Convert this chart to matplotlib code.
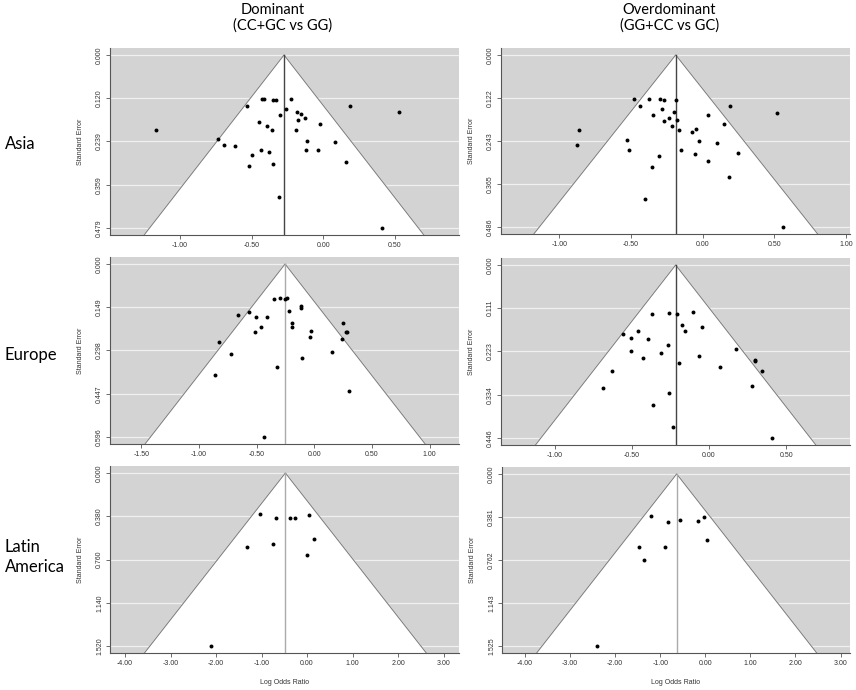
import numpy as np
import matplotlib
matplotlib.use("Agg")
import matplotlib.pyplot as plt

# funnel plots, rows = region, cols = genetic model
row_names = ["Asia", "Europe", "Latin\nAmerica"]
col_names = [("Dominant", "(CC+GC vs GG)"), ("Overdominant", "(GG+CC vs GC)")]

# --- Asia, dominant
asia_dom_x = [-0.426, -0.415, -0.349, -0.330, -0.228, -0.530, -0.260, -0.300, -0.186, -0.153,
              -0.174, -0.128, -0.021, 0.188, 0.528, -1.165, -0.447, -0.395, -0.356, -0.193,
              -0.733, -0.691, -0.619, -0.437, -0.381, -0.495, -0.116, -0.123, -0.040, 0.079,
              0.158, -0.516, -0.353, -0.307, 0.407]
asia_dom_se = [0.122, 0.122, 0.124, 0.125, 0.123, 0.140, 0.150, 0.166, 0.158, 0.164,
               0.181, 0.175, 0.190, 0.140, 0.158, 0.207, 0.185, 0.198, 0.207, 0.207,
               0.233, 0.249, 0.251, 0.263, 0.269, 0.276, 0.239, 0.263, 0.263, 0.242,
               0.295, 0.307, 0.301, 0.392, 0.479]

# --- Asia, overdominant
asia_over_x = [-0.477, -0.374, -0.298, -0.267, -0.184, -0.437, -0.284, -0.344, -0.198, -0.233,
               -0.270, -0.177, -0.214, -0.165, 0.040, 0.191, 0.519, 0.151, -0.047, -0.077,
               -0.863, -0.877, -0.528, -0.514, -0.026, 0.102, -0.149, -0.053, 0.249, -0.305,
               -0.351, 0.035, 0.184, -0.400, 0.558]
asia_over_se = [0.125, 0.125, 0.125, 0.128, 0.126, 0.143, 0.154, 0.170, 0.162, 0.178,
                0.187, 0.184, 0.202, 0.212, 0.170, 0.144, 0.163, 0.195, 0.209, 0.217,
                0.213, 0.253, 0.241, 0.267, 0.244, 0.248, 0.269, 0.279, 0.276, 0.285,
                0.315, 0.300, 0.345, 0.407, 0.486]

# --- Europe, dominant
eur_dom_x = [-0.347, -0.295, -0.257, -0.240, -0.113, -0.113, -0.223, -0.662, -0.569, -0.506,
             -0.413, -0.465, -0.517, -0.191, -0.197, -0.032, -0.038, 0.246, 0.275, 0.286,
             0.237, -0.824, -0.725, 0.150, -0.107, -0.324, -0.864, 0.298, -0.434]
eur_dom_se = [0.122, 0.117, 0.120, 0.116, 0.145, 0.151, 0.163, 0.175, 0.164, 0.184,
              0.184, 0.217, 0.236, 0.202, 0.218, 0.232, 0.250, 0.203, 0.236, 0.234,
              0.259, 0.269, 0.310, 0.303, 0.324, 0.354, 0.382, 0.439, 0.596]

# --- Europe, overdominant
eur_over_x = [-0.369, -0.257, -0.205, -0.104, -0.175, -0.043, -0.156, -0.460, -0.557, -0.503,
              -0.397, -0.268, -0.503, -0.313, -0.425, -0.197, -0.063, 0.071, 0.173, 0.296,
              0.300, 0.343, -0.631, -0.685, 0.276, -0.261, -0.365, -0.233, 0.410]
eur_over_se = [0.126, 0.123, 0.126, 0.122, 0.154, 0.160, 0.169, 0.169, 0.179, 0.188,
               0.192, 0.207, 0.223, 0.226, 0.241, 0.252, 0.235, 0.263, 0.216, 0.247,
               0.244, 0.274, 0.274, 0.318, 0.312, 0.329, 0.362, 0.418, 0.446]

# --- Latin America, dominant
lat_dom_x = [-1.033, -0.689, -0.381, -0.256, 0.044, 0.154, -1.311, -0.740, 0.000, -2.117]
lat_dom_se = [0.362, 0.400, 0.400, 0.400, 0.371, 0.576, 0.649, 0.628, 0.722, 1.520]

# --- Latin America, overdominant
lat_over_x = [-1.204, -0.820, -0.554, -0.162, -0.030, 0.030, -1.470, -0.901, -1.352, -2.408]
lat_over_se = [0.372, 0.424, 0.410, 0.413, 0.380, 0.585, 0.650, 0.647, 0.764, 1.525]

pooled = [-0.274, -0.188, -0.254, -0.216, -0.476, -0.635]
se_max = [0.479, 0.486, 0.596, 0.446, 1.520, 1.525]
ytick_labels = [["0.000", "0.120", "0.239", "0.359", "0.479"],
                ["0.000", "0.122", "0.243", "0.365", "0.486"],
                ["0.000", "0.149", "0.298", "0.447", "0.596"],
                ["0.000", "0.111", "0.223", "0.334", "0.446"],
                ["0.000", "0.380", "0.760", "1.140", "1.520"],
                ["0.000", "0.381", "0.762", "1.143", "1.525"]]
xticks = [[-1.0, -0.5, 0.0, 0.5],
          [-1.0, -0.5, 0.0, 0.5, 1.0],
          [-1.5, -1.0, -0.5, 0.0, 0.5, 1.0],
          [-1.0, -0.5, 0.0, 0.5],
          [-4, -3, -2, -1, 0, 1, 2, 3],
          [-4, -3, -2, -1, 0, 1, 2, 3]]
xlims = [(-1.488, 0.947), (-1.407, 1.028), (-1.772, 1.254),
         (-1.348, 0.914), (-4.33, 3.34), (-4.51, 3.21)]
xs = [asia_dom_x, asia_over_x, eur_dom_x, eur_over_x, lat_dom_x, lat_over_x]
ses = [asia_dom_se, asia_over_se, eur_dom_se, eur_over_se, lat_dom_se, lat_over_se]
vline_col = ["#444444", "#444444", "#aaaaaa", "#444444", "#aaaaaa", "#aaaaaa"]

# axes boxes in pixels (left, top, right, bottom)
boxes = [(110, 48, 459, 235), (501, 48, 850, 234),
         (110, 257, 459, 444), (501, 258, 850, 445),
         (110, 466, 459, 653), (502, 467, 850, 653)]

W, H = 856, 690
fig = plt.figure(figsize=(W/100, H/100), dpi=100)
tickfont = "Liberation Sans"

for i in range(6):
    l, t, r, b = boxes[i]
    ax = fig.add_axes([l/W, 1-b/H, (r-l)/W, (b-t)/H])
    m = se_max[i]
    ylo, yhi = -0.04*m, 1.04*m
    ax.set_facecolor("#d3d3d3")
    ax.set_xlim(*xlims[i])
    ax.set_ylim(yhi, ylo)
    yt = np.linspace(0, m, 5)
    for yy in yt:
        ax.axhline(yy, color="#f0f0f0", lw=0.9, zorder=1)
    est = pooled[i]
    w = 1.96*yhi
    ax.fill([est, est-w, est+w], [0, yhi, yhi], color="white", zorder=2)
    ax.plot([est-w, est, est+w], [yhi, 0, yhi], color="#808080", lw=0.8, zorder=3)
    ax.plot([est, est], [0, yhi], color=vline_col[i], lw=1.0, zorder=3)
    ax.scatter(xs[i], ses[i], s=8, color="black", zorder=4, linewidths=0)

    ax.set_yticks(yt)
    ax.set_yticklabels(ytick_labels[i], rotation=90, va="center", fontsize=5,
                       family=tickfont, color="#333333")
    ax.set_xticks(xticks[i])
    ax.set_xticklabels(["%.2f" % v for v in xticks[i]], fontsize=5,
                       family=tickfont, color="#333333")
    ax.tick_params(length=3, width=0.6, color="#555555", pad=2)
    for s in ["top", "right"]:
        ax.spines[s].set_visible(False)
    for s in ["left", "bottom"]:
        ax.spines[s].set_color("#555555")
        ax.spines[s].set_linewidth(0.8)
    ax.set_ylabel("Standard Error", fontsize=5, family=tickfont, color="#333333", labelpad=9)
    if i >= 4:
        ax.set_xlabel("Log Odds Ratio", fontsize=5, family=tickfont, color="#333333", labelpad=9)

# column and row headers
fig.text(273/W, 1-10/H, col_names[0][0], ha="center", va="center", fontsize=10.5, family="Lato")
fig.text(283/W, 1-26/H, col_names[0][1], ha="center", va="center", fontsize=10.5, family="Lato")
fig.text(669/W, 1-10/H, col_names[1][0], ha="center", va="center", fontsize=10.5, family="Lato")
fig.text(670/W, 1-26/H, col_names[1][1], ha="center", va="center", fontsize=10.5, family="Lato")
row_y = [144, 355, 557]
for name, yy in zip(row_names, row_y):
    fig.text(5/W, 1-yy/H, name, ha="left", va="center", fontsize=12, family="Lato",
             linespacing=1.25)

fig.savefig("out.png", dpi=100)
